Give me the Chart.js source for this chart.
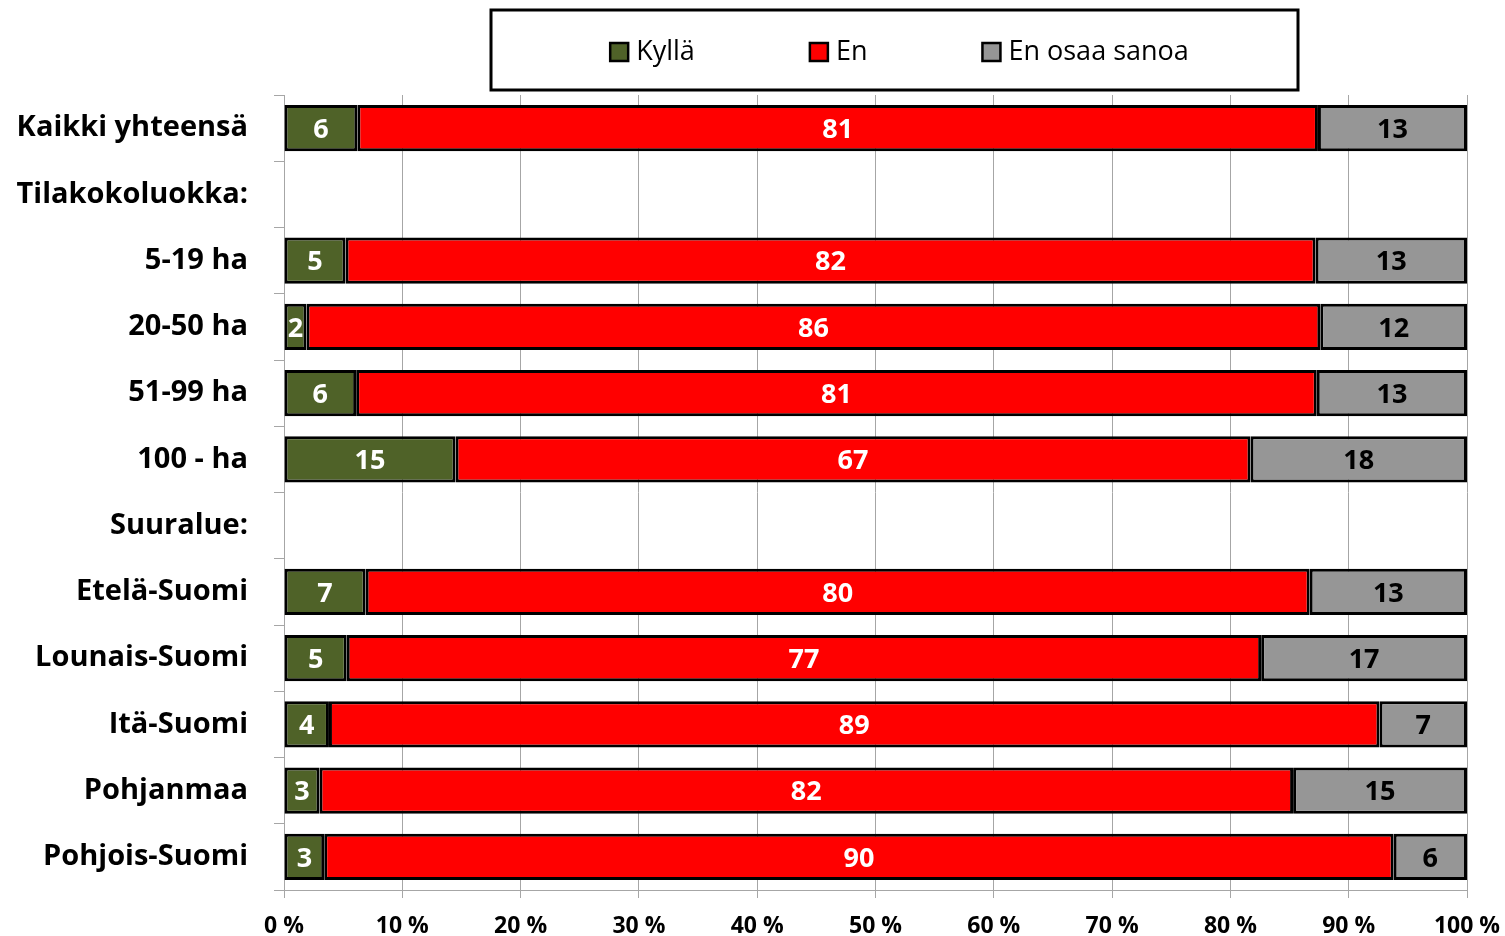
<!DOCTYPE html>
<html>
<head>
<meta charset="utf-8">
<script src="https://cdn.jsdelivr.net/npm/chart.js@4.4.0/dist/chart.umd.min.js"></script>
<style>
  html, body { margin: 0; padding: 0; background: #fff; }
  #wrap { width: 1505px; height: 936px; }
</style>
</head>
<body>
<div id="wrap"><canvas id="chart" width="1505" height="936"></canvas></div>
<script>
const categories = [
  "Kaikki yhteensä", "Tilakokoluokka:", "5-19 ha", "20-50 ha", "51-99 ha", "100 - ha",
  "Suuralue:", "Etelä-Suomi", "Lounais-Suomi", "Itä-Suomi", "Pohjanmaa", "Pohjois-Suomi"
];
const kylla = [6.2, null, 5.2, 1.9, 6.1, 14.5, null, 6.9, 5.3, 3.8, 3.0, 3.4];
const en = [81.2, null, 82.0, 85.7, 81.2, 67.2, null, 79.8, 77.3, 88.8, 82.3, 90.4];
const enOsaa = [12.6, null, 12.8, 12.4, 12.7, 18.3, null, 13.3, 17.4, 7.4, 14.7, 6.2];
const xTicks = [0, 10, 20, 30, 40, 50, 60, 70, 80, 90, 100];

const FONT = "'Open Sans'";
const GRID = "#a6a6a6";

const valueLabels = {
  id: "valueLabels",
  afterDatasetsDraw(chart) {
    const ctx = chart.ctx;
    ctx.save();
    ctx.font = "bold 27px " + FONT;
    ctx.textAlign = "center";
    ctx.textBaseline = "middle";
    chart.data.datasets.forEach((ds, i) => {
      chart.getDatasetMeta(i).data.forEach((bar, j) => {
        const v = ds.data[j];
        if (v == null) return;
        ctx.fillStyle = i === 2 ? "#000" : "#fff";
        const p = bar.getCenterPoint();
        ctx.fillText(Math.round(v), p.x, p.y + 2);
      });
    });
    ctx.restore();
  }
};

const boxLegend = {
  id: "boxLegend",
  afterDraw(chart) {
    const ctx = chart.ctx;
    const x0 = 491, y0 = 10, w = 807, h = 80;
    ctx.save();
    ctx.fillStyle = "#fff";
    ctx.fillRect(x0, y0, w, h);
    ctx.lineWidth = 3;
    ctx.strokeStyle = "#000";
    ctx.strokeRect(x0, y0, w, h);
    ctx.font = "27px " + FONT;
    ctx.textBaseline = "middle";
    const box = 18, gapText = 8, gapItem = 115;
    const items = chart.data.datasets.map(ds => ({ label: ds.label, color: ds.backgroundColor, tw: ctx.measureText(ds.label).width }));
    let total = 0;
    items.forEach((it, i) => { total += box + gapText + it.tw + (i < items.length - 1 ? gapItem : 0); });
    let x = x0 + w / 2 - total / 2 + 5;
    const cy = y0 + h / 2 + 2;
    items.forEach(it => {
      ctx.fillStyle = it.color;
      ctx.fillRect(x, cy - box / 2, box, box);
      ctx.lineWidth = 2.5;
      ctx.strokeStyle = "#000";
      ctx.strokeRect(x, cy - box / 2, box, box);
      ctx.fillStyle = "#000";
      ctx.fillText(it.label, x + box + gapText, cy);
      x += box + gapText + it.tw + gapItem;
    });
    ctx.restore();
  }
};

new Chart(document.getElementById("chart"), {
  type: "bar",
  data: {
    labels: categories,
    datasets: [
      { label: "Kyllä", data: kylla, backgroundColor: "#4f6228" },
      { label: "En", data: en, backgroundColor: "#ff0000" },
      { label: "En osaa sanoa", data: enOsaa, backgroundColor: "#969696" }
    ].map(d => Object.assign(d, {
      borderColor: "#000",
      borderWidth: 3,
      borderSkipped: false,
      barPercentage: 0.695,
      categoryPercentage: 1
    }))
  },
  options: {
    indexAxis: "y",
    responsive: false,
    animation: false,
    layout: { padding: { top: 95, right: 38, left: 0, bottom: 0 } },
    plugins: {
      legend: { display: false },
      tooltip: { enabled: false }
    },
    scales: {
      x: {
        stacked: true,
        min: 0,
        max: 100,
        afterBuildTicks(scale) { scale.ticks = xTicks.map(v => ({ value: v })); },
        ticks: {
          callback: v => v + " %",
          color: "#000",
          font: { family: "Open Sans", size: 23, weight: "bold" },
          padding: 15,
          maxRotation: 0
        },
        grid: { color: GRID, lineWidth: 1, tickLength: 8 },
        border: { color: GRID, width: 1 },
        afterFit(scale) {
          scale.height = 46;
          scale.paddingLeft = 0;
          scale.paddingRight = 0;
        }
      },
      y: {
        stacked: true,
        ticks: {
          color: "#000",
          font: { family: "Open Sans", size: 29, weight: "bold" },
          padding: 26
        },
        grid: { drawOnChartArea: false, color: GRID, tickLength: 10 },
        border: { color: GRID, width: 1 },
        afterFit(scale) { scale.width = 284; }
      }
    }
  },
  plugins: [valueLabels, boxLegend]
});
</script>
</body>
</html>
